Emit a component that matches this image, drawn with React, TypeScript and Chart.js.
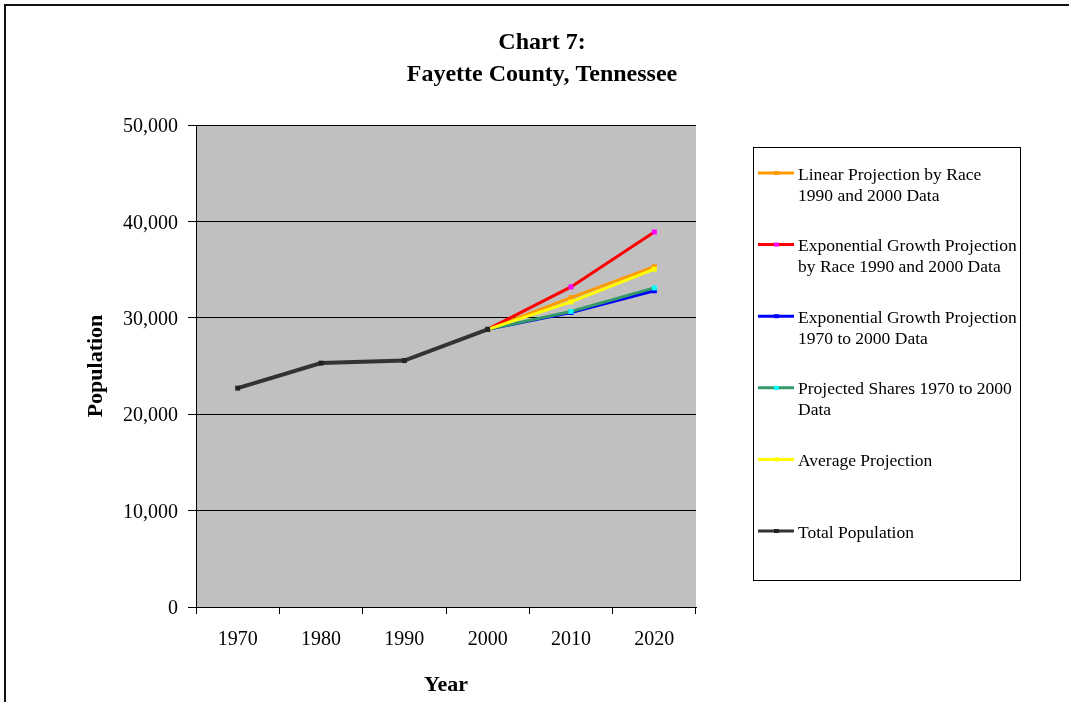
import React, { useEffect, useRef } from "react";
import { Chart, registerables } from "chart.js";

Chart.register(...registerables);

const years = ["1970", "1980", "1990", "2000", "2010", "2020"];
const totalPopulation = [22700, 25300, 25560, 28800, null, null];
const linearByRace = [null, null, null, 28800, 32100, 35300];
const expByRace = [null, null, null, 28800, 33200, 38900];
const expGrowth7000 = [null, null, null, 28800, 30550, 32800];
const projShares7000 = [null, null, null, 28800, 30650, 33100];
const averageProj = [null, null, null, 28800, 31650, 35050];

const titleLines = ["Chart 7:", "Fayette County, Tennessee"];
const yTickValues = [0, 10000, 20000, 30000, 40000, 50000];

const legendItems = [
  { lines: ["Linear Projection by Race", "1990 and 2000 Data"], color: "#FF9900", point: "#FF9900" },
  { lines: ["Exponential Growth Projection", "by Race 1990 and 2000 Data"], color: "#FF0000", point: "#FF00FF" },
  { lines: ["Exponential Growth Projection", "1970 to 2000 Data"], color: "#0000FF", point: "#0000FF" },
  { lines: ["Projected Shares 1970 to 2000", "Data"], color: "#339966", point: "#00FFFF" },
  { lines: ["Average Projection"], color: "#FFFF00", point: "#FFFF00" },
  { lines: ["Total Population"], color: "#333333", point: "#222222" },
];

const SERIF = "'Liberation Serif', 'Times New Roman', serif";

const decorPlugin = {
  id: "decor",
  beforeDraw(chart: any) {
    const { ctx, chartArea } = chart;
    ctx.save();
    ctx.fillStyle = "#FFFFFF";
    ctx.fillRect(0, 0, chart.width, chart.height);
    ctx.fillStyle = "#C0C0C0";
    ctx.fillRect(chartArea.left, chartArea.top, chartArea.right - chartArea.left, chartArea.bottom - chartArea.top);
    ctx.restore();
  },
  afterDraw(chart: any) {
    const { ctx } = chart;
    ctx.save();
    // outer frame (top and left)
    ctx.strokeStyle = "#111111";
    ctx.lineWidth = 2;
    ctx.beginPath();
    ctx.moveTo(chart.width, 5);
    ctx.lineTo(5, 5);
    ctx.lineTo(5, chart.height);
    ctx.stroke();

    // title
    ctx.fillStyle = "#000000";
    ctx.font = "bold 24px " + SERIF;
    ctx.textAlign = "center";
    ctx.textBaseline = "middle";
    titleLines.forEach((t, i) => ctx.fillText(t, 542, 43 + i * 32));

    // legend
    ctx.strokeStyle = "#000000";
    ctx.lineWidth = 1;
    ctx.strokeRect(753.5, 147.5, 267, 433);
    ctx.font = "17.5px " + SERIF;
    ctx.textAlign = "left";
    const startY = 173;
    const step = 71.6;
    legendItems.forEach((it, i) => {
      const y = startY + i * step;
      ctx.strokeStyle = it.color;
      ctx.lineWidth = 3;
      ctx.beginPath();
      ctx.moveTo(758, y);
      ctx.lineTo(794, y);
      ctx.stroke();
      ctx.fillStyle = it.point;
      ctx.fillRect(774, y - 2, 5, 4);
      ctx.fillStyle = "#000000";
      it.lines.forEach((ln, j) => ctx.fillText(ln, 798, y + 2 + j * 21));
    });
    ctx.restore();
  },
};

function ds(label: string, data: (number | null)[], color: string, point: string, order: number, width = 3) {
  return {
    label,
    data,
    borderColor: color,
    backgroundColor: point,
    borderWidth: width,
    pointStyle: "rect",
    pointRadius: 3.5,
    pointBackgroundColor: point,
    pointBorderColor: point,
    pointBorderWidth: 0,
    tension: 0,
    spanGaps: false,
    order,
  };
}

export default function App() {
  const ref = useRef<HTMLCanvasElement | null>(null);
  useEffect(() => {
    if (!ref.current) return;
    const chart = new Chart(ref.current, {
      type: "line",
      data: {
        labels: years,
        datasets: [
          ds("Linear Projection by Race 1990 and 2000 Data", linearByRace, "#FF9900", "#FF9900", 5),
          ds("Exponential Growth Projection by Race 1990 and 2000 Data", expByRace, "#FF0000", "#FF00FF", 2),
          ds("Exponential Growth Projection 1970 to 2000 Data", expGrowth7000, "#0000FF", "#0000FF", 4),
          ds("Projected Shares 1970 to 2000 Data", projShares7000, "#339966", "#00FFFF", 3),
          ds("Average Projection", averageProj, "#FFFF00", "#FFFF00", 1),
          ds("Total Population", totalPopulation, "#333333", "#222222", 0, 4),
        ] as any,
      },
      options: {
        animation: false,
        responsive: false,
        devicePixelRatio: 1,
        layout: { padding: { left: 78, top: 125, right: 373, bottom: 0 } },
        plugins: {
          legend: { display: false },
          title: { display: false },
          tooltip: { enabled: false },
        },
        scales: {
          x: {
            type: "category",
            offset: true,
            afterFit: (s: any) => { s.height = 95; },
            grid: {
              offset: true,
              drawOnChartArea: false,
              drawTicks: true,
              tickLength: 7,
              color: "#000000",
              lineWidth: 1,
            },
            border: { display: true, color: "#000000", width: 1 },
            ticks: {
              color: "#000000",
              font: { family: SERIF, size: 20 },
              padding: 14,
              maxRotation: 0,
              autoSkip: false,
            },
            title: {
              display: true,
              text: "Year",
              color: "#000000",
              font: { family: SERIF, size: 22, weight: "bold" },
              padding: 3,
            },
          },
          y: {
            min: 0,
            max: 50000,
            afterFit: (s: any) => { s.width = 118; },
            afterBuildTicks: (s: any) => { s.ticks = yTickValues.map((v) => ({ value: v })); },
            grid: {
              drawOnChartArea: true,
              drawTicks: true,
              tickLength: 8,
              color: "#000000",
              lineWidth: 1,
            },
            border: { display: true, color: "#000000", width: 1 },
            ticks: {
              color: "#000000",
              font: { family: SERIF, size: 20 },
              padding: 10,
              labelOffset: 2,
              callback: (v: any) => Number(v).toLocaleString("en-US"),
            },
            title: {
              display: true,
              text: "Population",
              color: "#000000",
              font: { family: SERIF, size: 22, weight: "bold" },
              padding: 5,
            },
          },
        },
      },
      plugins: [decorPlugin],
    });
    return () => chart.destroy();
  }, []);

  return (
    <div style={{ position: "fixed", left: 0, top: 0, width: 1069, height: 702, background: "#fff" }}>
      <canvas ref={ref} width={1069} height={702} style={{ width: 1069, height: 702, display: "block" }} />
    </div>
  );
}
